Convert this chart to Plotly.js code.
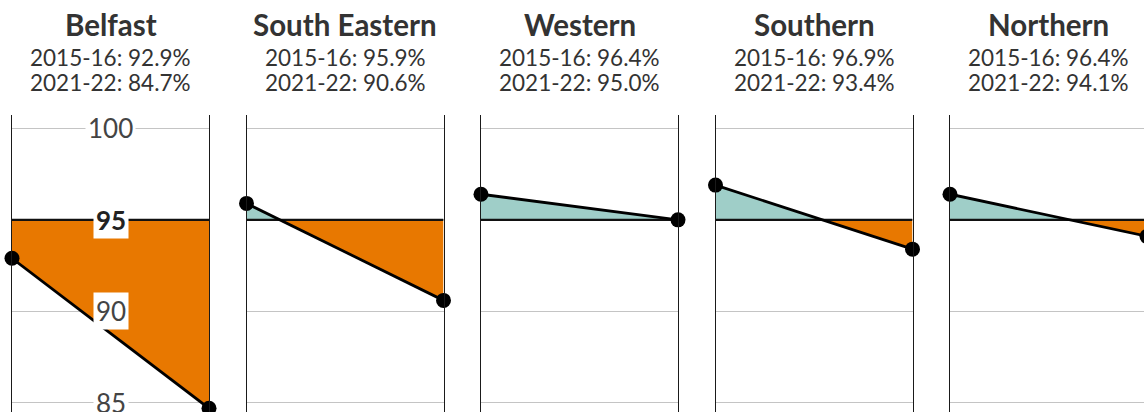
<!DOCTYPE html>
<html>
<head>
<meta charset="utf-8">
<script src="https://cdn.plot.ly/plotly-3.0.1.min.js"></script>
<style>
html,body{margin:0;padding:0;overflow:hidden;background:#fff;}
#chart{width:1150px;height:425px;}
</style>
</head>
<body>
<div id="chart"></div>
<script>
// ---- data ----
const regions = ['Belfast', 'South Eastern', 'Western', 'Southern', 'Northern'];
const periods = ['2015-16', '2021-22'];
const values2015 = [92.9, 95.9, 96.4, 96.9, 96.4];
const values2021 = [84.7, 90.6, 95.0, 93.4, 94.1];
const target = 95;
const tickVals = [85, 90, 95, 100];
const tickText = ['85', '90', '95', '100'];

// ---- styling ----
const W = 1150, H = 425, TOP = 115;
const panelLeft0 = 12, panelWidth = 197, panelPitch = 234.5;
const ABOVE = '#9fcec8', BELOW = '#e87800';
const FONT = 'Lato, "Open Sans", sans-serif';
const yRange = [83.79, 100.73];

const traces = [];
const layout = {
  width: W, height: H,
  margin: {l: 0, r: 0, t: TOP, b: 0, pad: 0},
  paper_bgcolor: '#fff', plot_bgcolor: '#fff',
  showlegend: false,
  font: {family: FONT, color: '#333'},
  annotations: []
};

function py(p) { return (H - p) / (H - TOP); }

regions.forEach((name, i) => {
  const k = i === 0 ? '' : String(i + 1);
  const xa = 'x' + k, ya = 'y' + k;
  const x0 = (panelLeft0 + i * panelPitch) / W;
  const x1 = (panelLeft0 + i * panelPitch + panelWidth) / W;
  layout['xaxis' + k] = {
    domain: [x0, x1], range: [0, 1], showgrid: false, zeroline: false,
    showticklabels: false, showline: false, fixedrange: true, anchor: ya
  };
  layout['yaxis' + k] = {
    domain: [0, 1], range: yRange, tickvals: tickVals, ticktext: tickText,
    showticklabels: false, ticks: '', showgrid: true, gridcolor: '#c4c4c4', gridwidth: 1,
    zeroline: false, showline: true, mirror: true, linecolor: '#1a1a1a', linewidth: 1,
    fixedrange: true, anchor: xa
  };

  const a = values2015[i], b = values2021[i];
  const colorOf = v => (v >= target ? ABOVE : BELOW);
  const polys = [];
  if ((a - target) * (b - target) < 0) {
    const t = (target - a) / (b - a);
    polys.push({x: [0, 0, t, 0], y: [target, a, target, target], c: colorOf(a)});
    polys.push({x: [t, 1, 1, t], y: [target, b, target, target], c: colorOf(b)});
  } else {
    const side = (a === target) ? b : a;
    polys.push({x: [0, 0, 1, 1, 0], y: [target, a, b, target, target], c: colorOf(side)});
  }
  polys.forEach(p => traces.push({
    type: 'scatter', mode: 'lines', x: p.x, y: p.y, xaxis: xa, yaxis: ya,
    fill: 'toself', fillcolor: p.c, line: {width: 0, color: p.c}, hoverinfo: 'skip'
  }));
  // target line
  traces.push({
    type: 'scatter', mode: 'lines', x: [0, 1], y: [target, target], xaxis: xa, yaxis: ya,
    line: {color: '#111', width: 2.2}, hoverinfo: 'skip'
  });
  // slope
  traces.push({
    type: 'scatter', mode: 'lines+markers', x: [0, 1], y: [a, b], xaxis: xa, yaxis: ya,
    line: {color: '#000', width: 2.8}, marker: {color: '#000', size: 15},
    cliponaxis: false, text: periods, hoverinfo: 'text+y'
  });

  // headings
  layout.annotations.push({
    xref: xa, yref: 'paper', x: 0.5, y: py(24), yanchor: 'middle', xanchor: 'center',
    text: '<b>' + name + '</b>', showarrow: false, font: {size: 29.5, color: '#333', family: FONT}
  });
  layout.annotations.push({
    xref: xa, yref: 'paper', x: 0.5, y: py(57.5), yanchor: 'middle', xanchor: 'center',
    text: periods[0] + ': ' + a.toFixed(1) + '%', showarrow: false, font: {size: 22.5, color: '#333', family: FONT}
  });
  layout.annotations.push({
    xref: xa, yref: 'paper', x: 0.5, y: py(82.5), yanchor: 'middle', xanchor: 'center',
    text: periods[1] + ': ' + b.toFixed(1) + '%', showarrow: false, font: {size: 22.5, color: '#333', family: FONT}
  });
});

// y labels in first panel
tickVals.forEach((v, j) => {
  const isTarget = v === target;
  layout.annotations.push({
    xref: 'x', yref: 'y', x: 0.5, y: v, xanchor: 'center', yanchor: 'middle',
    text: isTarget ? '<b>' + tickText[j] + '</b>' : tickText[j], showarrow: false,
    bgcolor: '#fff', borderpad: 2,
    font: {size: 26, color: isTarget ? '#222' : '#444', family: FONT}
  });
});

Plotly.newPlot('chart', traces, layout, {displayModeBar: false, staticPlot: true});
</script>
</body>
</html>
